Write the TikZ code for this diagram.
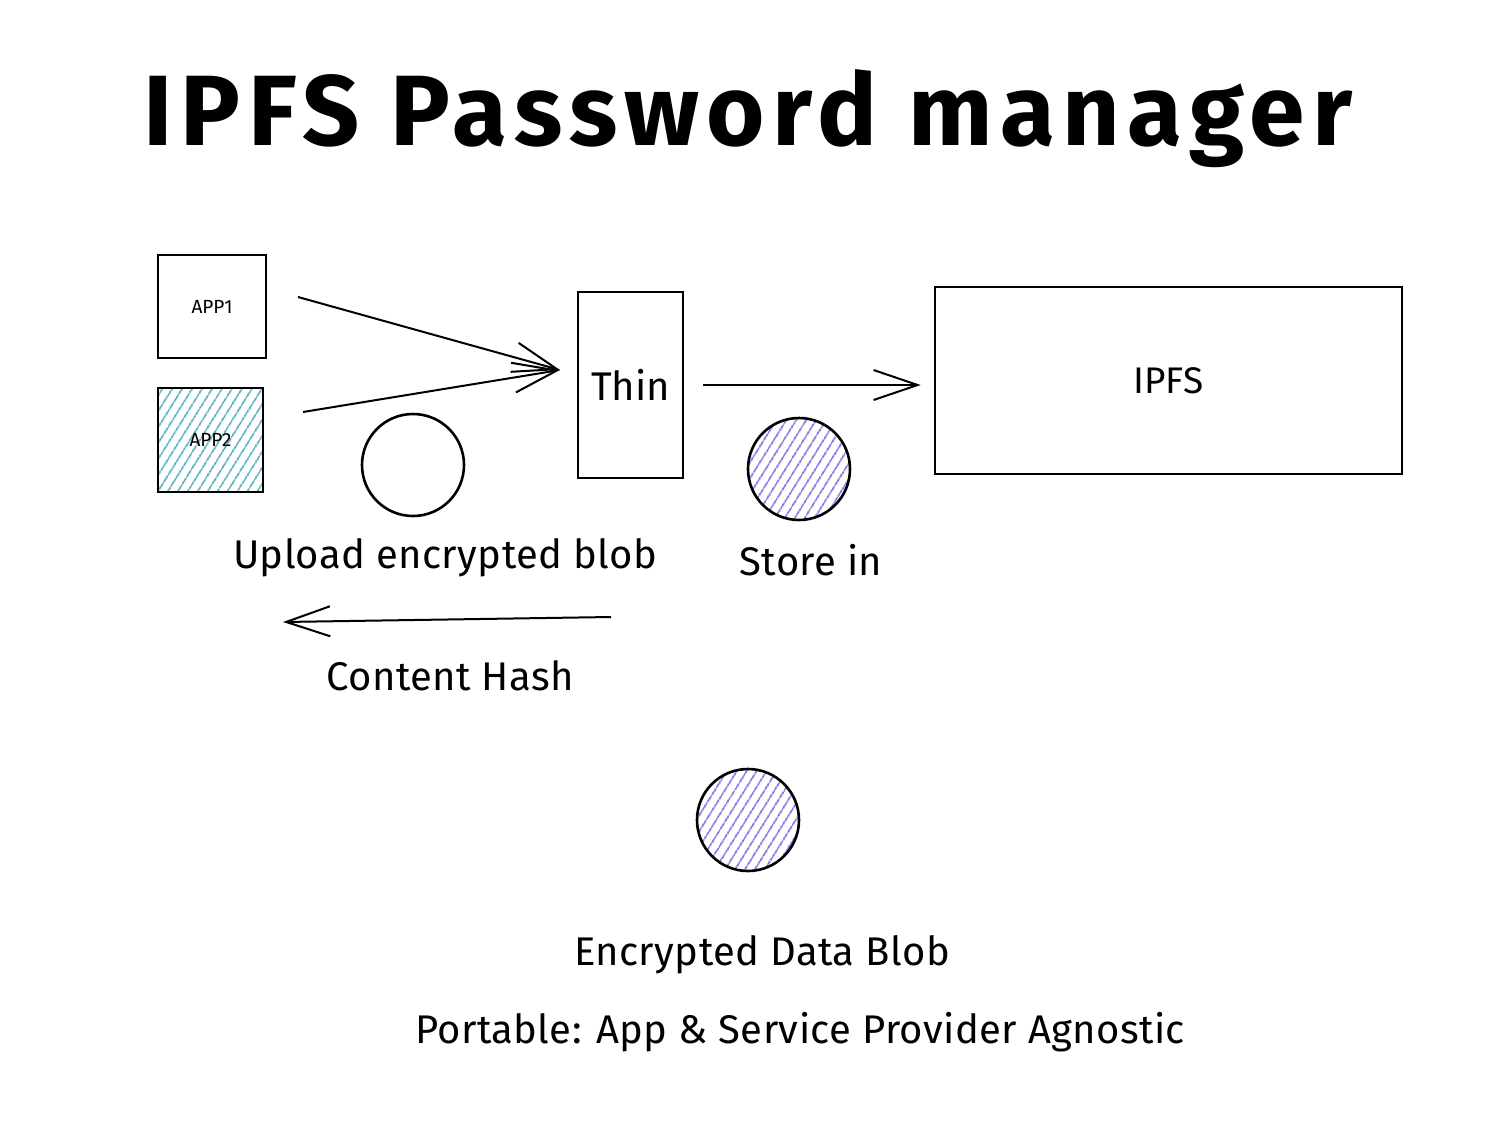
\documentclass[tikz,border=0pt]{standalone}
\usepackage{fontspec}
\setmainfont{Fira Sans}
\usetikzlibrary{arrows.meta}
\usetikzlibrary{patterns.meta}
\definecolor{hatchteal}{RGB}{76,170,186}
\definecolor{hatchviolet}{RGB}{122,108,226}

\begin{document}
\begin{tikzpicture}[x=0.5pt, y=-0.5pt,
    box/.style={draw, line width=1.3pt, inner sep=0pt},
    blob/.style={draw, circle, line width=1.3pt, minimum size=51pt, inner sep=0pt},
    hatch/.style={pattern={Lines[angle=58, distance=4pt, line width=0.9pt]}, pattern color=#1},
    flow/.style={-{Straight Barb[length=22pt, width=15pt, line width=1pt]}, line width=1pt},
    note/.style={anchor=base, font=\fontsize{20}{24}\selectfont\addfontfeatures{LetterSpace=1}}]
    \fill[white] (0,0) rectangle (1504,1130);
    \useasboundingbox (0,0) rectangle (1504,1130);

    \node[anchor=base, font=\fontsize{50}{60}\selectfont\bfseries\addfontfeatures{LetterSpace=7.5}] (title) at (748,145) {IPFS Password manager};

    \node[box, minimum width=54pt, minimum height=51.5pt, font=\fontsize{9.5}{10}\selectfont] (app1) at (212,306.5) {APP1};
    \node[box, hatch=hatchteal, minimum width=52.5pt, minimum height=52pt, font=\fontsize{9.5}{10}\selectfont] (app2) at (210.5,440) {APP2};
    \node[box, minimum width=52.5pt, minimum height=93pt, font=\fontsize{20}{22}\selectfont] (thin) at (630.5,385) {Thin};
    \node[box, minimum width=233.5pt, minimum height=93.5pt, font=\fontsize{18.5}{22}\selectfont] (ipfs) at (1168.5,380.5) {IPFS};

    \coordinate (app1out) at (298,297);
    \coordinate (app2out) at (303,412);
    \coordinate (merge) at (560,370);
    \draw[flow] (app1out) -- (merge);
    \draw[flow] (app2out) -- (merge);
    \draw[flow, shorten <=9.5pt, shorten >=6.5pt] (thin.east) -- (thin.east -| ipfs.west);

    \node[blob] (plain) at (413,465) {};
    \node[blob, hatch=hatchviolet] (stored) at (799,469) {};
    \node[blob, hatch=hatchviolet] (datablob) at (748,820) {};

    \node[note] (upload) at (445,568) {Upload encrypted blob};
    \node[note] (storein) at (811,575) {Store in};

    \coordinate (hashfrom) at (611,617);
    \coordinate (hashto) at (283,622);
    \draw[flow] (hashfrom) -- (hashto);
    \node[note] (hash) at (450,690) {Content Hash};

    \node[note] (blobtext) at (762,965) {Encrypted Data Blob};
    \node[note] (portable) at (800,1043) {Portable: App \& Service Provider Agnostic};
\end{tikzpicture}
\end{document}
